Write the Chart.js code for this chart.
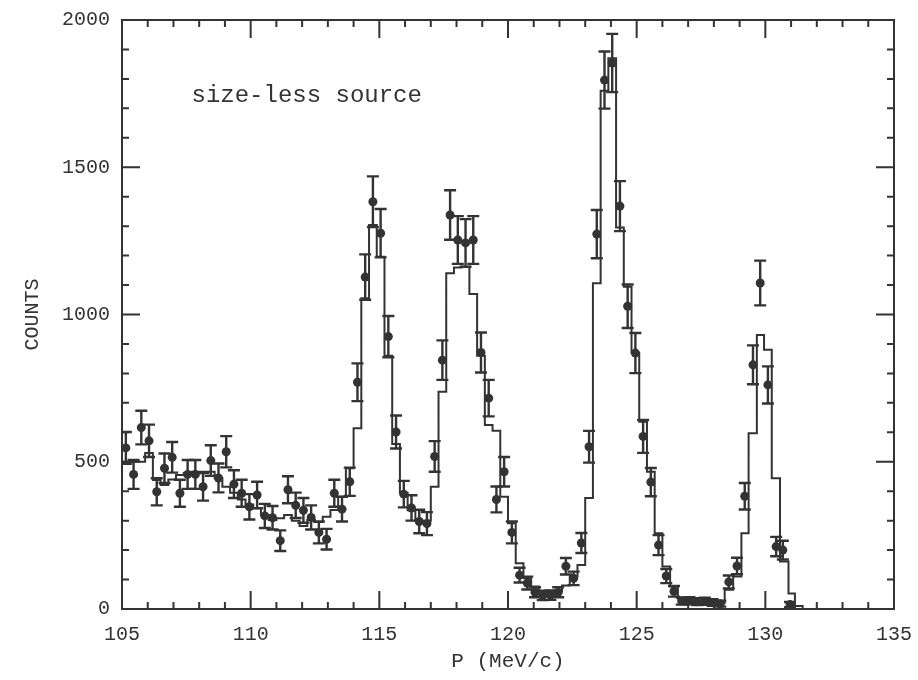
<!DOCTYPE html>
<html>
<head>
<meta charset="utf-8">
<script src="https://cdn.jsdelivr.net/npm/chart.js@4.4.1/dist/chart.umd.min.js"></script>
<style>
  html, body { margin: 0; padding: 0; background: #ffffff; }
  #wrap { width: 918px; height: 680px; }
</style>
</head>
<body>
<div id="wrap"><canvas id="c" width="918" height="680"></canvas></div>
<script>
// ---- data ----
const pointX = [
  105.15, 105.45, 105.75, 106.05, 106.35, 106.65, 106.95, 107.25, 107.55, 107.85,
  108.15, 108.45, 108.75, 109.05, 109.35, 109.65, 109.95, 110.25, 110.55, 110.85,
  111.15, 111.45, 111.75, 112.05, 112.35, 112.65, 112.95, 113.25, 113.55, 113.85,
  114.15, 114.45, 114.75, 115.05, 115.35, 115.65, 115.95, 116.25, 116.55, 116.85,
  117.15, 117.45, 117.75, 118.05, 118.35, 118.65, 118.95, 119.25, 119.55, 119.85,
  120.15, 120.45, 120.75, 121.05, 121.35, 121.65, 121.95, 122.25, 122.55, 122.85,
  123.15, 123.45, 123.75, 124.05, 124.35, 124.65, 124.95, 125.25, 125.55, 125.85,
  126.15, 126.45, 126.75, 127.05, 127.35, 127.65, 127.95, 128.25, 128.58, 128.9,
  129.2, 129.52, 129.8, 130.1, 130.42, 130.68, 130.96
];
const pointCounts = [
  547, 457, 616, 571, 398, 478, 515, 393, 457, 457,
  415, 504, 445, 534, 424, 393, 347, 387, 316, 310,
  232, 405, 352, 335, 311, 260, 237, 393, 339, 432,
  770, 1127, 1383, 1276, 925, 601, 390, 343, 297, 290,
  518, 845, 1338, 1253, 1243, 1253, 871, 716, 372, 466,
  260, 115, 88, 57, 46, 47, 57, 145, 104, 224,
  551, 1273, 1796, 1854, 1368, 1028, 869, 586, 431, 217,
  112, 60, 27, 28, 25, 26, 22, 18, 92, 146,
  383, 829, 1107, 761, 212, 200, 15
];
const pointErr = [
  54, 49, 57, 55, 46, 50, 52, 46, 49, 49,
  47, 52, 49, 53, 47, 46, 43, 45, 41, 40,
  35, 46, 43, 42, 41, 37, 35, 46, 42, 48,
  64, 77, 86, 82, 70, 56, 45, 43, 40, 39,
  52, 67, 84, 81, 81, 81, 68, 62, 44, 50,
  37, 25, 22, 17, 16, 16, 17, 28, 23, 34,
  54, 82, 97, 99, 85, 74, 68, 56, 48, 34,
  24, 18, 12, 12, 12, 12, 11, 10, 22, 28,
  45, 66, 76, 63, 33, 32, 9
];
// histogram (fit) : left bin edges and bin contents
const histEdges = [
  105.0, 105.3, 105.6, 105.9, 106.2, 106.5, 106.8, 107.1, 107.4, 107.7,
  108.0, 108.3, 108.6, 108.9, 109.2, 109.5, 109.8, 110.1, 110.4, 110.7,
  111.0, 111.3, 111.6, 111.9, 112.2, 112.5, 112.8, 113.1, 113.4, 113.7,
  114.0, 114.3, 114.6, 114.9, 115.2, 115.5, 115.8, 116.1, 116.4, 116.7,
  117.0, 117.3, 117.6, 117.9, 118.2, 118.5, 118.8, 119.1, 119.4, 119.7,
  120.0, 120.3, 120.6, 120.9, 121.2, 121.5, 121.8, 122.1, 122.4, 122.7,
  123.0, 123.3, 123.6, 123.9, 124.2, 124.5, 124.8, 125.1, 125.4, 125.7,
  126.0, 126.3, 126.6, 126.9, 127.2, 127.5, 127.8, 128.1, 128.42, 128.75,
  129.07, 129.35, 129.67, 129.95, 130.25, 130.57, 130.9, 131.15, 131.45, 135.0
];
const histCounts = [
  500, 500, 500, 530, 438, 421, 440, 455, 462, 466,
  466, 466, 444, 415, 395, 372, 355, 342, 318, 302,
  308, 319, 300, 282, 302, 295, 313, 336, 381, 478,
  614, 1055, 1304, 1196, 860, 560, 395, 335, 300, 300,
  415, 738, 1140, 1160, 1162, 1070, 860, 625, 605, 381,
  291, 155, 104, 76, 60, 55, 60, 80, 110, 149,
  377, 1106, 1760, 1870, 1295, 1094, 870, 636, 466, 257,
  144, 76, 36, 28, 25, 22, 20, 20, 65, 110,
  257, 597, 930, 880, 444, 161, 53, 10, 0, 0
];

const INK = '#333333';
const FONT = '"Liberation Mono", "DejaVu Sans Mono", monospace';

const histData = histEdges.map((e, i) => ({ x: e, y: histCounts[i] }));
const pointData = pointX.map((v, i) => ({ x: v, y: pointCounts[i] }));

const errorBars = {
  id: 'errorBars',
  afterDatasetsDraw(chart) {
    const { ctx, scales: { x, y }, chartArea: a } = chart;
    ctx.save();
    ctx.beginPath();
    ctx.rect(a.left, a.top, a.right - a.left, a.bottom - a.top);
    ctx.clip();
    ctx.strokeStyle = INK;
    ctx.lineWidth = 2.4;
    const cap = 6;
    pointX.forEach((v, i) => {
      const px = x.getPixelForValue(v);
      const yt = y.getPixelForValue(pointCounts[i] + pointErr[i]);
      const yb = y.getPixelForValue(pointCounts[i] - pointErr[i]);
      ctx.beginPath();
      ctx.moveTo(px, yt); ctx.lineTo(px, yb);
      ctx.moveTo(px - cap, yt); ctx.lineTo(px + cap, yt);
      ctx.moveTo(px - cap, yb); ctx.lineTo(px + cap, yb);
      ctx.stroke();
    });
    ctx.restore();
  }
};

const frame = {
  id: 'frame',
  afterDraw(chart) {
    const { ctx, chartArea: a, scales: { x, y } } = chart;
    ctx.save();
    ctx.strokeStyle = INK;
    ctx.lineWidth = 2;
    ctx.strokeRect(a.left, a.top, a.right - a.left, a.bottom - a.top);
    ctx.beginPath();
    for (let v = x.min; v <= x.max; v += 1) {
      const px = x.getPixelForValue(v);
      const len = (v % 5 === 0) ? 18 : 7;
      ctx.moveTo(px, a.bottom); ctx.lineTo(px, a.bottom - len);
      ctx.moveTo(px, a.top); ctx.lineTo(px, a.top + len);
    }
    for (let v = y.min; v <= y.max; v += 100) {
      const py = y.getPixelForValue(v);
      const len = (v % 500 === 0) ? 18 : 7;
      ctx.moveTo(a.left, py); ctx.lineTo(a.left + len, py);
      ctx.moveTo(a.right, py); ctx.lineTo(a.right - len, py);
    }
    ctx.stroke();
    // annotation
    ctx.fillStyle = INK;
    ctx.font = '24px ' + FONT;
    ctx.textBaseline = 'middle';
    ctx.textAlign = 'left';
    ctx.fillText('size-less source', x.getPixelForValue(107.7), y.getPixelForValue(1742));
    ctx.restore();
  }
};

new Chart(document.getElementById('c'), {
  data: {
    datasets: [
      {
        type: 'line',
        data: histData,
        stepped: 'before',
        borderColor: INK,
        borderWidth: 2,
        pointRadius: 0,
        fill: false,
        tension: 0
      },
      {
        type: 'scatter',
        data: pointData,
        pointRadius: 4.5,
        pointBackgroundColor: INK,
        pointBorderColor: INK,
        pointBorderWidth: 0
      }
    ]
  },
  options: {
    responsive: false,
    animation: false,
    layout: { padding: { left: 0, right: 24, top: 20, bottom: 0 } },
    plugins: { legend: { display: false }, tooltip: { enabled: false } },
    scales: {
      x: {
        type: 'linear',
        min: 105, max: 135,
        grid: { display: false, drawTicks: false },
        border: { display: false },
        ticks: { stepSize: 5, padding: 14, maxRotation: 0, color: INK, font: { family: FONT, size: 20 },
                 callback: (v) => String(v) },
        title: { display: true, text: 'P (MeV/c)', color: INK, font: { family: FONT, size: 21 }, padding: { top: 0, bottom: 6 } },
        afterFit(s) { s.height = 71; s.paddingLeft = 0; s.paddingRight = 0; }
      },
      y: {
        type: 'linear',
        min: 0, max: 2000,
        grid: { display: false, drawTicks: false },
        border: { display: false },
        ticks: { stepSize: 500, padding: 12, color: INK, font: { family: FONT, size: 20 },
                 callback: (v) => String(v) },
        title: { display: true, text: 'COUNTS', color: INK, font: { family: FONT, size: 20 }, padding: { top: 21, bottom: 0 } },
        afterFit(s) { s.width = 122; s.paddingTop = 0; s.paddingBottom = 0; }
      }
    }
  },
  plugins: [errorBars, frame]
});
</script>
</body>
</html>
